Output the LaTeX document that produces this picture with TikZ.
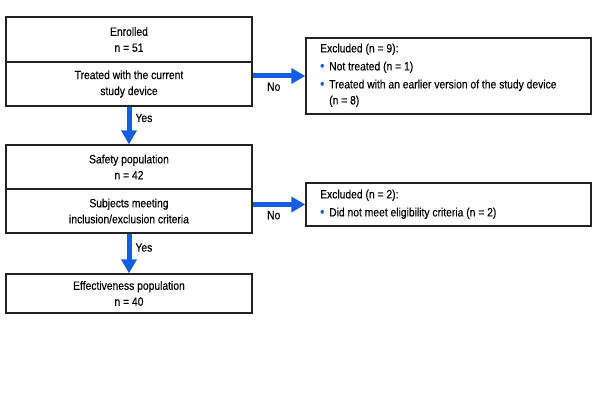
\documentclass[tikz,border=0pt]{standalone}
\usepackage{fontspec}
\usepackage{graphicx}
\setmainfont[FakeStretch=0.86,FakeBold=0.3]{Liberation Sans}
\usetikzlibrary{arrows.meta}
\definecolor{flowblue}{RGB}{20,95,225}
\definecolor{boxline}{RGB}{35,35,35}
\begin{document}
\begin{tikzpicture}[x=1pt,y=-1pt,
  every node/.style={font=\fontsize{12}{16}\selectfont},
  mainbox/.style={draw=boxline,line width=1.3pt,minimum width=246pt,inner sep=0pt,align=center},
  exbox/.style={draw=boxline,line width=1.3pt,minimum width=285pt,inner sep=0pt},
  flow/.style={draw=flowblue,line width=5pt,-{Triangle[width=15pt,length=14pt]}},
  lbl/.style={inner sep=1pt}]
\useasboundingbox (0,0) rectangle (600,401);
\newcommand{\bul}{\makebox[9pt][l]{\color{flowblue}\scalebox{1.15}{\textbullet}}}
% main column
\node[mainbox,minimum height=45pt] (b1) at (129,39.5) {Enrolled\\n = 51};
\node[mainbox,minimum height=44pt] (b1b) at (129,84) {Treated with the current\\study device};
\node[mainbox,minimum height=44pt] (b2) at (129,167) {Safety population\\n = 42};
\node[mainbox,minimum height=44pt] (b2b) at (129,211) {Subjects meeting\\inclusion/exclusion criteria};
\node[mainbox,minimum height=39pt] (b3) at (129,293.5) {Effectiveness population\\n = 40};
% exclusion boxes
\node[exbox,minimum height=76pt] (e1) at (448.5,76) {};
\node[anchor=north west,inner sep=0pt,align=left] (t1) at (320,41) {%
  \begin{tabular}{@{}l@{}l@{}}
  \multicolumn{2}{@{}l}{Excluded (n = 9):}\\[2pt]
  \bul & Not treated (n = 1)\\[2pt]
  \bul & Treated with an earlier version of the study device\\
   & (n = 8)
  \end{tabular}};
\node[exbox,minimum height=43pt] (e2) at (448.5,204.5) {};
\node[anchor=north west,inner sep=0pt,align=left] (t2) at (320,187) {%
  \begin{tabular}{@{}l@{}l@{}}
  \multicolumn{2}{@{}l}{Excluded (n = 2):}\\[2pt]
  \bul & Did not meet eligibility criteria (n = 2)
  \end{tabular}};
% connectors
\draw[flow] (b1b.south) -- (b2.north) node[pos=0.3,right=3pt,lbl] (y1) {Yes};
\draw[flow] (b2b.south) -- (b3.north) node[pos=0.35,right=3pt,lbl] (y2) {Yes};
\draw[flow] (b1b.east |- e1.west) -- (e1.west) node[pos=0.4,below=3pt,lbl] (n1) {No};
\draw[flow] (b2b.east |- e2.west) -- (e2.west) node[pos=0.4,below=3pt,lbl] (n2) {No};
\end{tikzpicture}
\end{document}
